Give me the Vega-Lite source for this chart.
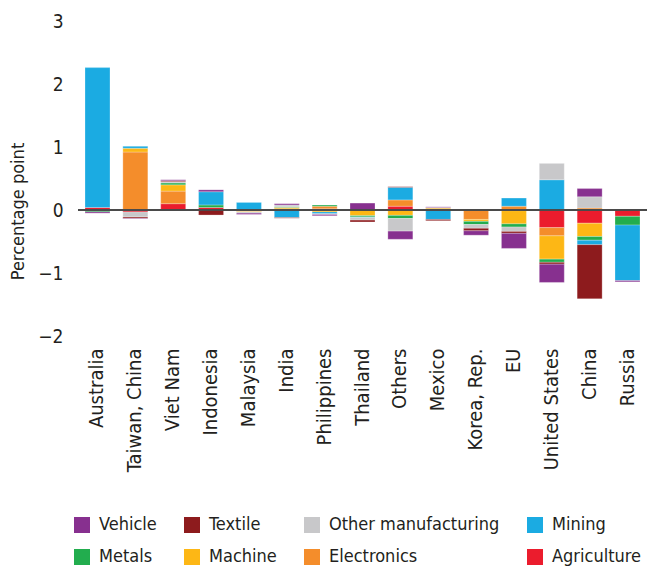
{
  "$schema": "https://vega.github.io/schema/vega-lite/v6.json",
  "width": 569,
  "height": 315,
  "autosize": {"type": "none"},
  "padding": {"left": 78, "top": 21, "right": 16, "bottom": 233},
  "background": "white",
  "config": {
    "view": {"stroke": null},
    "font": "Liberation Sans Narrow, DejaVu Sans Condensed, Roboto, sans-serif",
    "axis": {"labelFont": "Liberation Sans Narrow, DejaVu Sans Condensed, Roboto, sans-serif", "titleFont": "Liberation Sans Narrow, DejaVu Sans Condensed, Roboto, sans-serif", "labelColor": "#231f20", "titleColor": "#231f20"},
    "legend": {"labelFont": "Liberation Sans Narrow, DejaVu Sans Condensed, Roboto, sans-serif", "labelColor": "#231f20"}
  },
  "data": {
    "values": [
      {"country": "Australia", "sector": "Agriculture", "value": 0.04},
      {"country": "Australia", "sector": "Mining", "value": 2.22},
      {"country": "Australia", "sector": "Metals", "value": -0.03},
      {"country": "Australia", "sector": "Vehicle", "value": -0.02},
      {"country": "Taiwan, China", "sector": "Electronics", "value": 0.92},
      {"country": "Taiwan, China", "sector": "Machine", "value": 0.06},
      {"country": "Taiwan, China", "sector": "Mining", "value": 0.03},
      {"country": "Taiwan, China", "sector": "Agriculture", "value": -0.03},
      {"country": "Taiwan, China", "sector": "Other manufacturing", "value": -0.08},
      {"country": "Taiwan, China", "sector": "Textile", "value": -0.02},
      {"country": "Taiwan, China", "sector": "Vehicle", "value": -0.01},
      {"country": "Viet Nam", "sector": "Agriculture", "value": 0.10},
      {"country": "Viet Nam", "sector": "Electronics", "value": 0.20},
      {"country": "Viet Nam", "sector": "Machine", "value": 0.10},
      {"country": "Viet Nam", "sector": "Metals", "value": 0.03},
      {"country": "Viet Nam", "sector": "Other manufacturing", "value": 0.02},
      {"country": "Viet Nam", "sector": "Textile", "value": 0.015},
      {"country": "Viet Nam", "sector": "Vehicle", "value": 0.015},
      {"country": "Indonesia", "sector": "Agriculture", "value": 0.04},
      {"country": "Indonesia", "sector": "Metals", "value": 0.04},
      {"country": "Indonesia", "sector": "Mining", "value": 0.21},
      {"country": "Indonesia", "sector": "Vehicle", "value": 0.03},
      {"country": "Indonesia", "sector": "Textile", "value": -0.08},
      {"country": "Malaysia", "sector": "Mining", "value": 0.12},
      {"country": "Malaysia", "sector": "Electronics", "value": -0.02},
      {"country": "Malaysia", "sector": "Machine", "value": -0.01},
      {"country": "Malaysia", "sector": "Other manufacturing", "value": -0.02},
      {"country": "Malaysia", "sector": "Vehicle", "value": -0.02},
      {"country": "India", "sector": "Electronics", "value": 0.02},
      {"country": "India", "sector": "Machine", "value": 0.02},
      {"country": "India", "sector": "Metals", "value": 0.01},
      {"country": "India", "sector": "Other manufacturing", "value": 0.03},
      {"country": "India", "sector": "Vehicle", "value": 0.02},
      {"country": "India", "sector": "Mining", "value": -0.12},
      {"country": "India", "sector": "Textile", "value": -0.01},
      {"country": "Philippines", "sector": "Agriculture", "value": 0.02},
      {"country": "Philippines", "sector": "Electronics", "value": 0.04},
      {"country": "Philippines", "sector": "Metals", "value": 0.02},
      {"country": "Philippines", "sector": "Machine", "value": -0.03},
      {"country": "Philippines", "sector": "Mining", "value": -0.03},
      {"country": "Philippines", "sector": "Other manufacturing", "value": -0.01},
      {"country": "Philippines", "sector": "Vehicle", "value": -0.02},
      {"country": "Thailand", "sector": "Vehicle", "value": 0.11},
      {"country": "Thailand", "sector": "Machine", "value": -0.09},
      {"country": "Thailand", "sector": "Metals", "value": -0.02},
      {"country": "Thailand", "sector": "Mining", "value": -0.01},
      {"country": "Thailand", "sector": "Other manufacturing", "value": -0.04},
      {"country": "Thailand", "sector": "Textile", "value": -0.03},
      {"country": "Others", "sector": "Agriculture", "value": 0.06},
      {"country": "Others", "sector": "Electronics", "value": 0.10},
      {"country": "Others", "sector": "Mining", "value": 0.20},
      {"country": "Others", "sector": "Textile", "value": 0.01},
      {"country": "Others", "sector": "Machine", "value": -0.085},
      {"country": "Others", "sector": "Metals", "value": -0.05},
      {"country": "Others", "sector": "Other manufacturing", "value": -0.20},
      {"country": "Others", "sector": "Vehicle", "value": -0.13},
      {"country": "Mexico", "sector": "Electronics", "value": 0.01},
      {"country": "Mexico", "sector": "Machine", "value": 0.02},
      {"country": "Mexico", "sector": "Other manufacturing", "value": 0.01},
      {"country": "Mexico", "sector": "Vehicle", "value": 0.01},
      {"country": "Mexico", "sector": "Mining", "value": -0.15},
      {"country": "Mexico", "sector": "Textile", "value": -0.02},
      {"country": "Korea, Rep.", "sector": "Electronics", "value": -0.15},
      {"country": "Korea, Rep.", "sector": "Machine", "value": -0.03},
      {"country": "Korea, Rep.", "sector": "Metals", "value": -0.05},
      {"country": "Korea, Rep.", "sector": "Other manufacturing", "value": -0.06},
      {"country": "Korea, Rep.", "sector": "Textile", "value": -0.04},
      {"country": "Korea, Rep.", "sector": "Vehicle", "value": -0.07},
      {"country": "EU", "sector": "Electronics", "value": 0.06},
      {"country": "EU", "sector": "Mining", "value": 0.13},
      {"country": "EU", "sector": "Agriculture", "value": -0.01},
      {"country": "EU", "sector": "Machine", "value": -0.21},
      {"country": "EU", "sector": "Metals", "value": -0.05},
      {"country": "EU", "sector": "Other manufacturing", "value": -0.07},
      {"country": "EU", "sector": "Textile", "value": -0.03},
      {"country": "EU", "sector": "Vehicle", "value": -0.24},
      {"country": "United States", "sector": "Mining", "value": 0.48},
      {"country": "United States", "sector": "Other manufacturing", "value": 0.26},
      {"country": "United States", "sector": "Agriculture", "value": -0.28},
      {"country": "United States", "sector": "Electronics", "value": -0.13},
      {"country": "United States", "sector": "Machine", "value": -0.37},
      {"country": "United States", "sector": "Metals", "value": -0.05},
      {"country": "United States", "sector": "Textile", "value": -0.03},
      {"country": "United States", "sector": "Vehicle", "value": -0.29},
      {"country": "China", "sector": "Electronics", "value": 0.03},
      {"country": "China", "sector": "Other manufacturing", "value": 0.18},
      {"country": "China", "sector": "Vehicle", "value": 0.13},
      {"country": "China", "sector": "Agriculture", "value": -0.21},
      {"country": "China", "sector": "Machine", "value": -0.21},
      {"country": "China", "sector": "Metals", "value": -0.06},
      {"country": "China", "sector": "Mining", "value": -0.07},
      {"country": "China", "sector": "Textile", "value": -0.86},
      {"country": "Russia", "sector": "Agriculture", "value": -0.10},
      {"country": "Russia", "sector": "Metals", "value": -0.14},
      {"country": "Russia", "sector": "Mining", "value": -0.88},
      {"country": "Russia", "sector": "Vehicle", "value": -0.02}
    ]
  },
  "layer": [
    {
      "mark": {"type": "bar", "stroke": "white", "strokeWidth": 0.5, "strokeOpacity": 0.5},
      "encoding": {
        "x": {
          "field": "country", "type": "nominal", "sort": null,
          "scale": {"paddingInner": 0.34, "paddingOuter": 0.185},
          "axis": {"title": null, "labelAngle": -90, "ticks": false, "domain": false, "labelPadding": 12, "labelFontSize": 20}
        },
        "y": {
          "field": "value", "type": "quantitative", "stack": "zero",
          "scale": {"domain": [-2, 3], "nice": false},
          "axis": {"values": [-2, -1, 0, 1, 2, 3], "format": "d", "ticks": false, "domain": false, "grid": false, "labelPadding": 15, "labelFontSize": 19,
                   "title": "Percentage point", "titleFontSize": 18, "titleFontWeight": "normal", "titleX": -60, "titleY": 190, "titleAngle": -90, "titleAlign": "center", "titleBaseline": "middle"}
        },
        "color": {
          "field": "sector", "type": "nominal",
          "scale": {
            "domain": ["Vehicle", "Textile", "Other manufacturing", "Mining", "Metals", "Machine", "Electronics", "Agriculture"],
            "range": ["#87308f", "#8d1b1d", "#c8c8ca", "#1babe2", "#22ad4e", "#fdb715", "#f48d2b", "#eb1c2d"]
          },
          "legend": {"orient": "none", "legendX": -5, "legendY": 495, "direction": "horizontal", "columns": 4, "title": null,
                     "symbolType": "square", "symbolSize": 256, "symbolStrokeWidth": 0, "labelFontSize": 18, "labelOffset": 8,
                     "columnPadding": 26, "rowPadding": 14, "labelLimit": 300}
        },
        "order": {"field": "sector", "sort": "ascending"}
      }
    },
    {
      "mark": {"type": "rule", "color": "#4a4a4a", "strokeWidth": 2},
      "encoding": {"y": {"datum": 0}}
    }
  ]
}
